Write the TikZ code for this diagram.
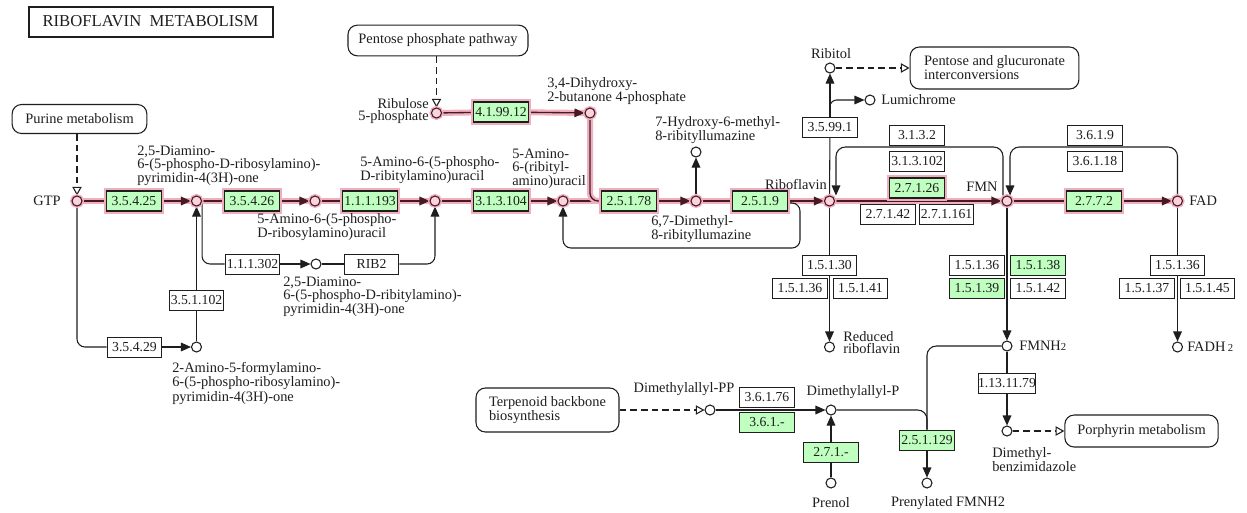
\documentclass[tikz,border=0pt]{standalone}
\usepackage{fontspec}
\setmainfont{Liberation Serif}
\usetikzlibrary{arrows.meta,calc,backgrounds}
\definecolor{kgreen}{RGB}{191,255,191}
\definecolor{hlpink}{RGB}{240,175,190}
\definecolor{hldark}{RGB}{70,25,35}
\definecolor{hlfill}{RGB}{250,212,220}
\definecolor{ink}{RGB}{30,30,30}
\newcommand\lblfont{\fontsize{10.8}{9.4}\selectfont}
\newcommand\enzfont{\fontsize{10.3}{10}\selectfont}
\begin{document}
\begin{tikzpicture}[x=0.75pt,y=-0.75pt,
  every node/.style={text=ink},
  titlebox/.style={draw=ink, line width=1.5pt, minimum width=183pt, minimum height=22.5pt, inner sep=0pt, font=\fontsize{12.5}{14}\selectfont},
  enz/.style={draw=ink, fill=white, line width=0.7pt, minimum width=41pt, minimum height=15pt, inner sep=0pt, font=\enzfont},
  genz/.style={enz, fill=kgreen},
  henz/.style={enz, fill=kgreen, line width=1pt, preaction={draw=hlpink, line width=4pt}},
  cpd/.style={circle, draw=ink, fill=white, line width=0.8pt, minimum size=7.5pt, inner sep=0pt},
  hcpd/.style={cpd, draw=hldark, fill=hlfill, preaction={draw=hlpink, line width=3pt}},
  lbl/.style={inner sep=0pt, font=\lblfont, align=left},
  mapbox/.style={draw=ink, line width=0.8pt, rounded corners=7pt, inner sep=0pt, font=\lblfont, align=left},
  conn/.style={draw=ink, line width=0.8pt},
  hconn/.style={draw=hldark, line width=1pt, preaction={draw=hlpink, line width=4.5pt, -}},
  arr/.style={-{Triangle[length=7.5pt,width=6.5pt]}},
  oarr/.style={-{Triangle[open,length=6.5pt,width=7pt]}},
  dsh/.style={dash pattern=on 5pt off 3pt}]
\useasboundingbox (0,0) rectangle (1247,512);

% title and map boxes
\node[titlebox] (title) at (150.5,21.5) {RIBOFLAVIN\ \ METABOLISM};
\node[mapbox, minimum width=101pt, minimum height=21.75pt] (purine) at (79.5,119) {Purine metabolism};
\node[mapbox, minimum width=135pt, minimum height=23pt] (ppp) at (438,40.5) {Pentose phosphate pathway};
\node[mapbox, inner xsep=10.5pt, minimum height=31.5pt] (pgi) at (994.5,68) {Pentose and glucuronate\\interconversions};
\node[mapbox, inner xsep=9.75pt, minimum height=33pt] (terp) at (547.5,410) {Terpenoid backbone\\biosynthesis};
\node[mapbox, minimum width=115pt, minimum height=24pt] (porph) at (1141.5,431) {Porphyrin metabolism};

% highlighted enzymes
\node[henz] (e3525) at (134,201) {3.5.4.25};
\node[henz] (e3526) at (252,201) {3.5.4.26};
\node[henz] (e11193) at (370,201) {1.1.1.193};
\node[henz] (e313104) at (501,201) {3.1.3.104};
\node[henz] (e25178) at (629,201) {2.5.1.78};
\node[henz] (e2519) at (760,201) {2.5.1.9};
\node[henz] (e419912) at (501,112) {4.1.99.12};
\node[henz] (e27126) at (917,188) {2.7.1.26};
\node[henz] (e2772) at (1094,201) {2.7.7.2};

% other enzymes
\node[enz] (e3132) at (917,135) {3.1.3.2};
\node[enz] (e313102) at (917,161) {3.1.3.102};
\node[enz] (e3619) at (1095,135) {3.6.1.9};
\node[enz] (e36118) at (1095,161) {3.6.1.18};
\node[enz] (e27142) at (888,214) {2.7.1.42};
\node[enz] (e271161) at (946.5,214) {2.7.1.161};
\node[enz] (e35991) at (830,127) {3.5.99.1};
\node[enz] (e15130) at (829.5,265) {1.5.1.30};
\node[enz] (e15136a) at (800,288) {1.5.1.36};
\node[enz] (e15141) at (860.5,288) {1.5.1.41};
\node[enz] (e15136b) at (977,265) {1.5.1.36};
\node[genz] (e15138) at (1038,265) {1.5.1.38};
\node[genz] (e15139) at (977,288) {1.5.1.39};
\node[enz] (e15142) at (1038,288) {1.5.1.42};
\node[enz] (e15136c) at (1177.5,265) {1.5.1.36};
\node[enz] (e15137) at (1147,288) {1.5.1.37};
\node[enz] (e15145) at (1207.5,288) {1.5.1.45};
\node[enz] (e1131179) at (1007,383) {1.13.11.79};
\node[genz] (e251129) at (927,440) {2.5.1.129};
\node[genz] (e2710) at (831,452) {2.7.1.-};
\node[enz] (e36176) at (767,397) {3.6.1.76};
\node[genz] (e3610) at (767,422.5) {3.6.1.-};
\node[enz] (e3529) at (134.5,347) {3.5.4.29};
\node[enz] (e351102) at (196.5,300) {3.5.1.102};
\node[enz] (e111302) at (252.5,264) {1.1.1.302};
\node[enz] (rib2) at (371.5,264) {RIB2};

% highlighted compounds
\node[hcpd] (gtp) at (77,201) {};
\node[hcpd] (c2) at (196.5,201) {};
\node[hcpd] (c3) at (315,201) {};
\node[hcpd] (c4) at (435,201) {};
\node[hcpd] (c5) at (563,201) {};
\node[hcpd] (c6) at (696,201) {};
\node[hcpd] (ribo) at (829.5,201) {};
\node[hcpd] (fmn) at (1007,201) {};
\node[hcpd] (fad) at (1177.5,201) {};
\node[hcpd] (rul) at (436.5,113) {};
\node[hcpd] (dhb) at (590,113) {};

% other compounds
\node[cpd] (hyd) at (696,152) {};
\node[cpd] (ribitol) at (830,68) {};
\node[cpd] (lumi) at (870,100) {};
\node[cpd] (redribo) at (829.5,347) {};
\node[cpd] (fmnh2) at (1007,346) {};
\node[cpd] (fadh2) at (1177.5,347) {};
\node[cpd] (dmb) at (1007,431) {};
\node[cpd] (prenfmnh2) at (927,483) {};
\node[cpd] (dmap) at (831,410) {};
\node[cpd] (dmapp) at (710,410) {};
\node[cpd] (prenol) at (831,483) {};
\node[cpd] (c3529) at (196.5,347) {};
\node[cpd] (c111302) at (316,264) {};

% labels
\node[lbl] (lgtp) at (47,201) {GTP};
\node[lbl, anchor=north west] (ldap) at (137,146) {2,5-Diamino-\\6-(5-phospho-D-ribosylamino)-\\pyrimidin-4(3H)-one};
\node[lbl, anchor=north west] (larpu) at (257,213) {5-Amino-6-(5-phospho-\\D-ribosylamino)uracil};
\node[lbl, anchor=north west] (larpu2) at (360,156) {5-Amino-6-(5-phospho-\\D-ribitylamino)uracil};
\node[lbl, anchor=north west] (laru) at (512,149) {5-Amino-\\6-(ribityl-\\amino)uracil};
\node[lbl, anchor=north west] (ldhb) at (547,77) {3,4-Dihydroxy-\\2-butanone 4-phosphate};
\node[lbl, anchor=north east, align=right] (lrul) at (429,98) {Ribulose\\5-phosphate};
\node[lbl, anchor=north west] (lhyd) at (655,116) {7-Hydroxy-6-methyl-\\8-ribityllumazine};
\node[lbl, anchor=north west] (ldml) at (651,215) {6,7-Dimethyl-\\8-ribityllumazine};
\node[lbl] (lribo) at (796,184) {Riboflavin};
\node[lbl] (lfmn) at (982,187) {FMN};
\node[lbl, anchor=west] (lfad) at (1189,201) {FAD};
\node[lbl] (lribitol) at (831,54) {Ribitol};
\node[lbl, anchor=west] (llumi) at (881,100) {Lumichrome};
\node[lbl, anchor=north west] (lredribo) at (843,331) {Reduced\\riboflavin};
\node[lbl, anchor=west] (lfmnh2) at (1019,346) {FMNH{\fontsize{8}{8}\selectfont 2}};
\node[lbl, anchor=west] (lfadh2) at (1187,347) {FADH\,{\fontsize{8}{8}\selectfont 2}};
\node[lbl, anchor=north west] (ldmb) at (992,447) {Dimethyl-\\benzimidazole};
\node[lbl] (lprenfmnh2) at (948,503) {Prenylated FMNH2};
\node[lbl] (lprenol) at (831,503) {Prenol};
\node[lbl] (ldmap) at (853,392) {Dimethylallyl-P};
\node[lbl] (ldmapp) at (684,389) {Dimethylallyl-PP};
\node[lbl, anchor=north west] (ldrp) at (283,277) {2,5-Diamino-\\6-(5-phospho-D-ribitylamino)-\\pyrimidin-4(3H)-one};
\node[lbl, anchor=north west] (lafp) at (172,362) {2-Amino-5-formylamino-\\6-(5-phospho-ribosylamino)-\\pyrimidin-4(3H)-one};

\coordinate (lumibr) at (830,112);
\coordinate (la) at (1003,147);
\coordinate (lb) at (836,147);
\coordinate (lc) at (1177.5,147);
\coordinate (ld) at (1010,147);
\coordinate (lpd) at (800,248);

\begin{scope}[on background layer]
\fill[white] (0,0) rectangle (1247,512);
% highlighted path
\draw[hconn] (gtp) -- (e3525);
\draw[hconn,arr] (e3525) -- (c2);
\draw[hconn] (c2) -- (e3526);
\draw[hconn,arr] (e3526) -- (c3);
\draw[hconn] (c3) -- (e11193);
\draw[hconn,arr] (e11193) -- (c4);
\draw[hconn] (c4) -- (e313104);
\draw[hconn,arr] (e313104) -- (c5);
\draw[hconn] (c5) -- (e25178);
\draw[hconn,rounded corners=6pt] (dhb) |- (e25178.west);
\draw[hconn,arr] (e25178) -- (c6);
\draw[hconn] (c6) -- (e2519);
\draw[hconn,arr] (e2519) -- (ribo);
\draw[hconn,arr] (ribo) -- (fmn);
\draw[hconn] (fmn) -- (e2772);
\draw[hconn,arr] (e2772) -- (fad);
\draw[hconn] (rul) -- (e419912);
\draw[hconn,arr] (e419912) -- (dhb);
% other connectors
\draw[conn,arr] (c6) -- (hyd);
\draw[conn,arr,rounded corners=6pt] ([yshift=-1.5pt]e2519.east) -| (lpd) -| (c5);
\draw[conn,dsh,oarr] (gtp |- purine.south) -- (gtp);
\draw[conn,dsh,oarr] (rul |- ppp.south) -- (rul);
\draw[conn,rounded corners=6pt] (gtp) |- (e3529);
\draw[conn,arr] (e3529) -- (c3529);
\draw[conn] (c3529) -- (e351102);
\draw[conn,arr] (e351102) -- (c2);
\draw[conn,rounded corners=6pt] (c2.east) |- (e111302);
\draw[conn,arr] (e111302) -- (c111302);
\draw[conn] (c111302) -- (rib2);
\draw[conn,arr,rounded corners=6pt] (rib2) -| (c4);
\draw[conn] (ribo) -- (e35991);
\draw[conn,arr] (e35991) -- (ribitol);
\draw[conn,arr,rounded corners=5pt] (lumibr) |- (lumi);
\draw[conn,dsh,oarr] (ribitol) -- (pgi);
\draw[conn,arr,rounded corners=7pt] ([xshift=-3pt]fmn.north) -- (la) -- (lb) -- (lb |- ribo.north);
\draw[conn,arr,rounded corners=7pt] (fad.north) -- (lc) -- (ld) -- (ld |- fmn.north);
\draw[conn,arr] (ribo) -- (redribo);
\draw[conn,arr] (fmn) -- (fmnh2);
\draw[conn,arr] (fad) -- (fadh2);
\draw[conn,arr] (fmnh2) -- (dmb);
\draw[conn,dsh,oarr] (dmb) -- (porph);
\draw[conn,rounded corners=7pt] (fmnh2) -| (e251129);
\draw[conn,rounded corners=7pt] (dmap) -| (e251129);
\draw[conn,arr] (e251129) -- (prenfmnh2);
\draw[conn,arr] (dmapp) -- (dmap);
\draw[conn,arr] (prenol) -- (dmap);
\draw[conn,dsh,oarr] (terp) -- (dmapp);
\end{scope}
\end{tikzpicture}
\end{document}
